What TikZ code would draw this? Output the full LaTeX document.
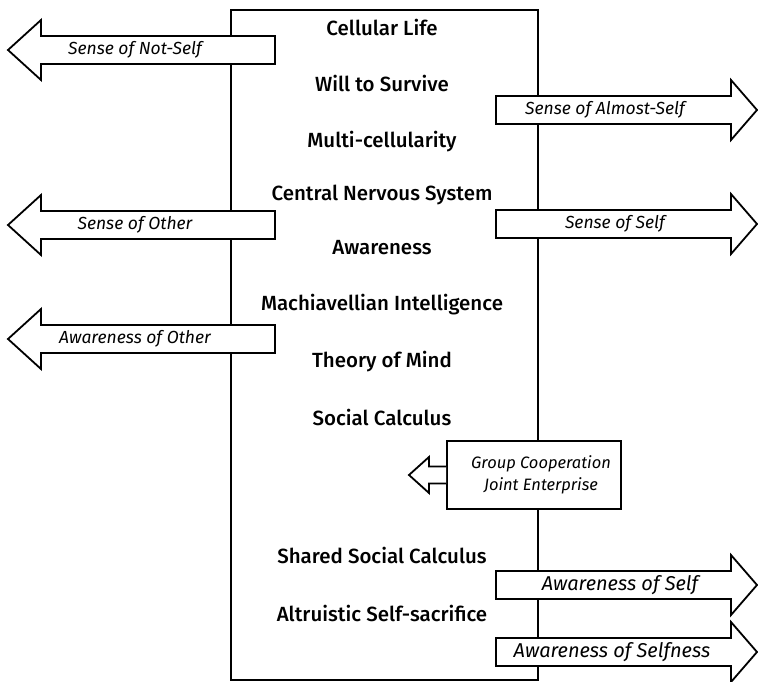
\documentclass[tikz,border=0pt]{standalone}
\usepackage{fontspec}
\setmainfont{Fira Sans}
\newfontfamily\stagefont{Fira Sans Medium}
\usetikzlibrary{positioning, calc}

\begin{document}
\begin{tikzpicture}[x=1pt, y=-1pt,
  every node/.style={inner sep=0pt, text=black},
  stage/.style={font=\stagefont\fontsize{20.5}{24}\selectfont},
  sense/.style={font=\itshape\fontsize{17.5}{20}\selectfont},
  bigsense/.style={font=\itshape\fontsize{20}{23}\selectfont},
  groupsense/.style={font=\itshape\fontsize{16.5}{22}\selectfont, align=center},
  bigarrow/.style={draw, fill=white, line width=1.8pt, line join=miter},
  frame/.style={draw, line width=1.8pt},
]
\useasboundingbox (0,0) rectangle (758,682);

% Main column
\draw[frame] (231,10) rectangle (538,680);

% Stages
\node[stage] (s1)  at (382, 27)  {Cellular Life};
\node[stage] (s2)  at (382, 83)  {Will to Survive};
\node[stage] (s3)  at (382,142)  {Multi-cellularity};
\node[stage] (s4)  at (382,195)  {Central Nervous System};
\node[stage] (s5)  at (382,248)  {Awareness};
\node[stage] (s6)  at (382,305)  {Machiavellian Intelligence};
\node[stage] (s7)  at (382,362)  {Theory of Mind};
\node[stage] (s8)  at (382,417)  {Social Calculus};
\node[stage] (s9)  at (382,555)  {Shared Social Calculus};
\node[stage] (s10) at (382,613)  {Altruistic Self-sacrifice};

% Arrows out to the left
\draw[bigarrow] (275,36) -- (41,36) -- (41,20) -- (8,50) -- (41,80) -- (41,64) -- (275,64) -- cycle;
\draw[bigarrow] (275,211) -- (41,211) -- (41,195) -- (8,225) -- (41,255) -- (41,239) -- (275,239) -- cycle;
\draw[bigarrow] (275,325) -- (41,325) -- (41,309) -- (8,339) -- (41,369) -- (41,353) -- (275,353) -- cycle;

% Arrows out to the right
\draw[bigarrow] (496,96) -- (731,96) -- (731,80) -- (757,110) -- (731,140) -- (731,124) -- (496,124) -- cycle;
\draw[bigarrow] (496,210) -- (731,210) -- (731,194) -- (757,224) -- (731,254) -- (731,238) -- (496,238) -- cycle;
\draw[bigarrow] (496,571) -- (731,571) -- (731,555) -- (757,585) -- (731,615) -- (731,599) -- (496,599) -- cycle;
\draw[bigarrow] (496,638) -- (731,638) -- (731,622) -- (757,652) -- (731,682) -- (731,666) -- (496,666) -- cycle;

% Arrow labels
\node[sense] (a1) at (135, 50)  {Sense of Not-Self};
\node[sense] (a2) at (605,110)  {Sense of Almost-Self};
\node[sense] (a3) at (135,225)  {Sense of Other};
\node[sense] (a4) at (615,224)  {Sense of Self};
\node[sense] (a5) at (135,339)  {Awareness of Other};
\node[bigsense] (a6) at (620,585) {Awareness of Self};
\node[bigsense] (a7) at (612,652) {Awareness of Selfness};

% Group box
\node[bigarrow, minimum width=174pt, minimum height=68pt] (g) at (534,475) {};
\node[groupsense] (gt) at (541,475) {Group Cooperation\\Joint Enterprise};
\draw[bigarrow] ($(g.west)+(0,-8.5)$) -- (429,466.5) -- (429,457) -- (409,475)
  -- (429,493) -- (429,483.5) -- ($(g.west)+(0,8.5)$);

\end{tikzpicture}
\end{document}
